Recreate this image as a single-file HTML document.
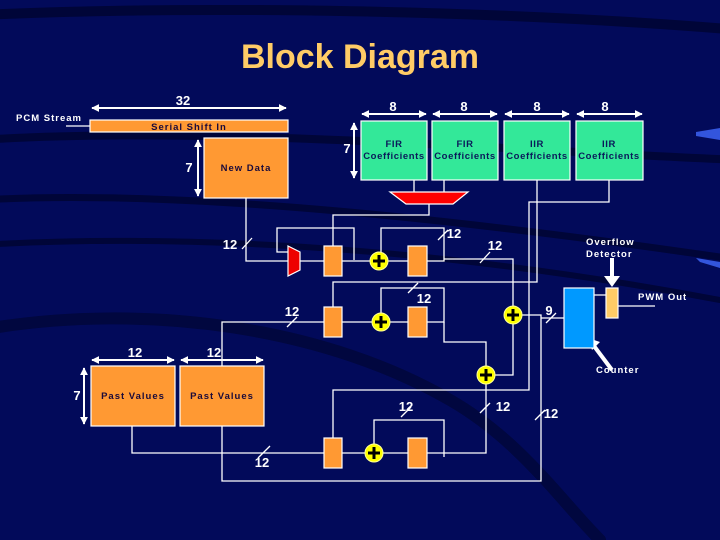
<!DOCTYPE html>
<html><head><meta charset="utf-8"><style>
html,body{margin:0;padding:0;width:720px;height:540px;overflow:hidden;background:#020a58}
svg{display:block}
text{font-family:"Liberation Sans",Arial,sans-serif;font-weight:bold}
</style></head><body>
<svg width="720" height="540" viewBox="0 0 720 540" xmlns="http://www.w3.org/2000/svg">
<defs>
<marker id="a" viewBox="0 0 10 10" refX="9" refY="5" markerWidth="4" markerHeight="4" orient="auto-start-reverse"><path d="M0,0L10,5L0,10z" fill="#fff"/></marker>
</defs>
<rect width="720" height="540" fill="#020a5a"/>
<g fill="none" stroke="#000538" stroke-linecap="round">
<path d="M-20,15 C200,5 500,10 740,30" stroke-width="10"/>
<path d="M-20,140 C200,125 500,150 740,160" stroke-width="8"/>
<path d="M-20,200 C150,190 400,210 740,260" stroke-width="7"/>
<path d="M-20,245 C150,235 400,240 720,300" stroke-width="6"/>
<path d="M-20,330 C150,300 330,330 450,400 C520,440 560,500 600,540" stroke-width="12" stroke="#01073f"/>
</g>
<path d="M696,132 L720,128 L720,140 L696,136z" fill="#3355dd"/>
<path d="M696,258 L720,262 L720,268 L700,262z" fill="#3355dd"/>
<text x="360" y="68" font-size="34" fill="#ffcc66" text-anchor="middle">Block Diagram</text>

<g stroke="#fff" stroke-width="1.3" fill="none">
<line x1="92" y1="108" x2="286" y2="108" marker-start="url(#a)" marker-end="url(#a)" stroke-width="2"/>
<line x1="198" y1="140" x2="198" y2="196" marker-start="url(#a)" marker-end="url(#a)" stroke-width="2"/>
<line x1="354" y1="123" x2="354" y2="178" marker-start="url(#a)" marker-end="url(#a)" stroke-width="2"/>
<line x1="362" y1="114" x2="426" y2="114" marker-start="url(#a)" marker-end="url(#a)" stroke-width="2"/>
<line x1="433" y1="114" x2="497" y2="114" marker-start="url(#a)" marker-end="url(#a)" stroke-width="2"/>
<line x1="505" y1="114" x2="569" y2="114" marker-start="url(#a)" marker-end="url(#a)" stroke-width="2"/>
<line x1="577" y1="114" x2="642" y2="114" marker-start="url(#a)" marker-end="url(#a)" stroke-width="2"/>
<line x1="92" y1="360" x2="174" y2="360" marker-start="url(#a)" marker-end="url(#a)" stroke-width="2"/>
<line x1="181" y1="360" x2="263" y2="360" marker-start="url(#a)" marker-end="url(#a)" stroke-width="2"/>
<line x1="84" y1="368" x2="84" y2="424" marker-start="url(#a)" marker-end="url(#a)" stroke-width="2"/>
<line x1="66" y1="126" x2="97" y2="126"/>
<polyline points="246,198 246,261 288,261"/>
<polyline points="300,261 324,261"/>
<polyline points="288,252 277,252 277,228 354,228 354,260"/>
<polyline points="414,180 414,192"/><polyline points="444,180 444,192"/>
<polyline points="429,204 429,215 333,215 333,246"/>
<polyline points="342,261 408,261"/>
<polyline points="427,261 444,261 444,228 381,228 381,252"/>
<polyline points="444,259 513,259 513,306"/>
<polyline points="537,180 537,282 333,282 333,307"/>
<polyline points="609,180 609,202 529,202 529,390 333,390 333,438"/>
<polyline points="222,366 222,322 324,322"/>
<polyline points="342,322 408,322"/>
<polyline points="427,322 444,322 444,288 381,288 381,313"/>
<polyline points="444,322 444,342 486,342 486,366"/>
<polyline points="495,375 513,375 513,324"/>
<polyline points="522,315 541,315 541,481 222,481 222,426"/>
<polyline points="541,318 564,318"/>
<polyline points="132,426 132,453 324,453"/>
<polyline points="342,453 408,453"/>
<polyline points="427,453 486,453 486,384"/>
<polyline points="374,444 374,420 444,420 444,457"/>
<polyline points="588,295 606,295"/><polyline points="618,306 655,306"/>
<line x1="242" y1="249" x2="252" y2="238"/>
<line x1="438" y1="240" x2="448" y2="230"/>
<line x1="480" y1="263" x2="490" y2="252"/>
<line x1="408" y1="293" x2="418" y2="283"/>
<line x1="287" y1="327" x2="297" y2="317"/>
<line x1="546" y1="323" x2="556" y2="313"/>
<line x1="258" y1="458" x2="270" y2="446"/>
<line x1="401" y1="417" x2="411" y2="407"/>
<line x1="480" y1="413" x2="490" y2="403"/>
<line x1="535" y1="420" x2="545" y2="410"/>
</g>
<g stroke="#fff" stroke-width="4"><line x1="612" y1="258" x2="612" y2="278"/><line x1="612" y1="370" x2="594" y2="346"/></g>
<path d="M604,276L620,276L612,287z" fill="#fff"/>
<path d="M588,338L600,342L592,350z" fill="#fff"/>

<g stroke="#fff" stroke-width="1.2">
<rect x="90" y="120" width="198" height="12" fill="#ff9933"/>
<rect x="204" y="138" width="84" height="60" fill="#ff9933"/>
<rect x="91" y="366" width="84" height="60" fill="#ff9933"/>
<rect x="180" y="366" width="84" height="60" fill="#ff9933"/>
<rect x="361" y="121" width="66" height="59" fill="#33e899"/>
<rect x="432" y="121" width="66" height="59" fill="#33e899"/>
<rect x="504" y="121" width="66" height="59" fill="#33e899"/>
<rect x="576" y="121" width="67" height="59" fill="#33e899"/>
<path d="M390,192L468,192L453,204L406,204z" fill="#ff0000"/>
<path d="M288,246L300,252L300,270L288,276z" fill="#ee0000"/>
<rect x="324" y="246" width="18" height="30" fill="#ff9933"/>
<rect x="408" y="246" width="19" height="30" fill="#ff9933"/>
<rect x="324" y="307" width="18" height="30" fill="#ff9933"/>
<rect x="408" y="307" width="19" height="30" fill="#ff9933"/>
<rect x="324" y="438" width="18" height="30" fill="#ff9933"/>
<rect x="408" y="438" width="19" height="30" fill="#ff9933"/>
<rect x="564" y="288" width="30" height="60" fill="#0099ff"/>
<rect x="606" y="288" width="12" height="30" fill="#ffcc66"/>
</g>
<g fill="#ffff00" stroke="#ffff99" stroke-width="1">
<circle cx="379" cy="261" r="9"/><circle cx="381" cy="322" r="9"/>
<circle cx="513" cy="315" r="9"/><circle cx="486" cy="375" r="9"/>
<circle cx="374" cy="453" r="9"/>
</g>
<g stroke="#000" stroke-width="3">
<path d="M373,261h12M379,255v12"/><path d="M375,322h12M381,316v12"/>
<path d="M507,315h12M513,309v12"/><path d="M480,375h12M486,369v12"/>
<path d="M368,453h12M374,447v12"/>
</g>

<g fill="#fff" font-size="13">
<text x="183" y="105" text-anchor="middle">32</text>
<text x="189" y="172" text-anchor="middle">7</text>
<text x="347" y="153" text-anchor="middle">7</text>
<text x="393" y="111" text-anchor="middle">8</text>
<text x="464" y="111" text-anchor="middle">8</text>
<text x="537" y="111" text-anchor="middle">8</text>
<text x="605" y="111" text-anchor="middle">8</text>
<text x="230" y="249" text-anchor="middle">12</text>
<text x="454" y="238" text-anchor="middle">12</text>
<text x="495" y="250" text-anchor="middle">12</text>
<text x="424" y="303" text-anchor="middle">12</text>
<text x="292" y="316" text-anchor="middle">12</text>
<text x="549" y="315" text-anchor="middle">9</text>
<text x="135" y="357" text-anchor="middle">12</text>
<text x="214" y="357" text-anchor="middle">12</text>
<text x="77" y="400" text-anchor="middle">7</text>
<text x="406" y="411" text-anchor="middle">12</text>
<text x="503" y="411" text-anchor="middle">12</text>
<text x="551" y="418" text-anchor="middle">12</text>
<text x="262" y="467" text-anchor="middle">12</text>
</g>
<g fill="#fff" font-size="9.5" letter-spacing="1">
<text x="16" y="121">PCM Stream</text>
<text x="586" y="245">Overflow</text>
<text x="586" y="257">Detector</text>
<text x="638" y="300">PWM Out</text>
<text x="596" y="373">Counter</text>
</g>
<g fill="#1a0a3a" font-size="9.5" letter-spacing="1" text-anchor="middle">
<text x="189" y="130">Serial Shift In</text>
<text x="246" y="171">New Data</text>
<text x="133" y="399">Past Values</text>
<text x="222" y="399">Past Values</text>
</g>
<g fill="#0a1a5a" font-size="9.5" letter-spacing="0.6" text-anchor="middle">
<text x="394" y="147">FIR</text><text x="394" y="159">Coefficients</text>
<text x="465" y="147">FIR</text><text x="465" y="159">Coefficients</text>
<text x="537" y="147">IIR</text><text x="537" y="159">Coefficients</text>
<text x="609" y="147">IIR</text><text x="609" y="159">Coefficients</text>
</g>
</svg>
</body></html>
